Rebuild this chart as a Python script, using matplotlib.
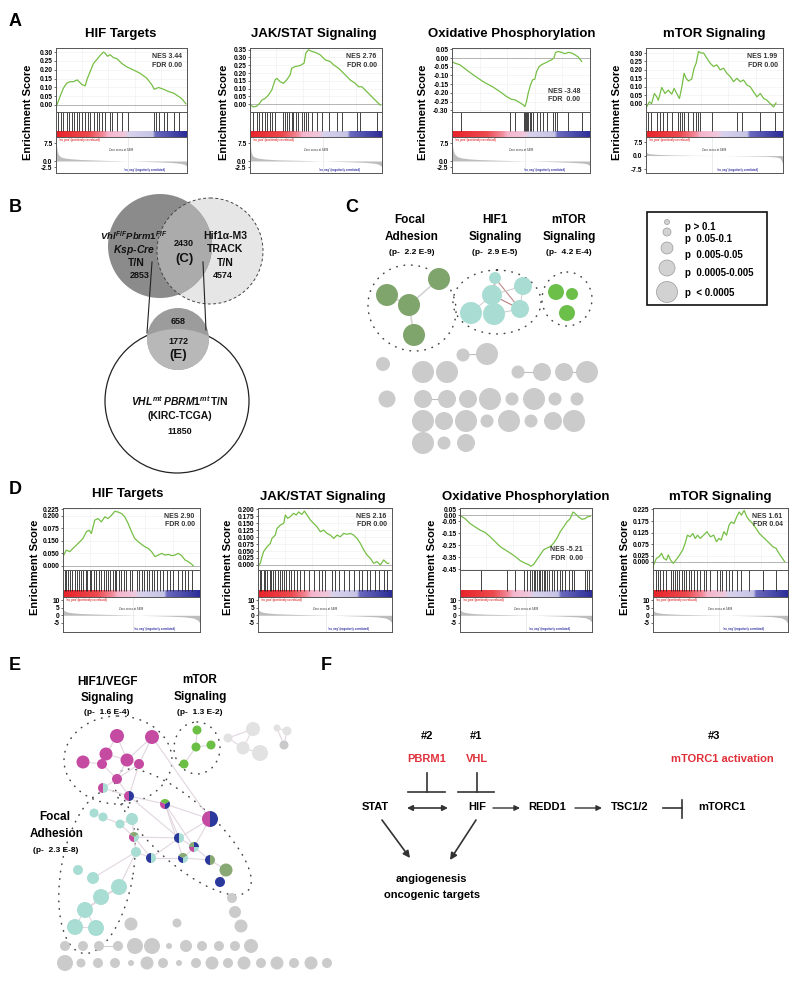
import numpy as np
import matplotlib.pyplot as plt
from matplotlib.patches import Circle, Ellipse, Wedge, Rectangle
from matplotlib.colors import LinearSegmentedColormap

plt.rcParams['font.family'] = ['Liberation Sans', 'DejaVu Sans']
plt.rcParams['font.weight'] = 'bold'
plt.rcParams['mathtext.fontset'] = 'custom'
plt.rcParams['mathtext.rm'] = 'Liberation Sans:bold'
plt.rcParams['mathtext.it'] = 'Liberation Sans:italic:bold'
plt.rcParams['mathtext.bf'] = 'Liberation Sans:bold'

# --- GSEA data (x = % of ranked list) ---
a1_x = [0.5, 3.1, 5.6, 8.2, 10.7, 13.3, 16.3, 19.6, 22.2, 24.0, 26.0, 28.6, 31.1, 33.7, 36.2, 37.5, 39.3,
        41.3, 43.9, 46.4, 50.3, 54.1, 59.2, 64.3, 69.4, 73.2, 75.0, 78.3, 82.1, 86.0, 89.8, 93.6, 96.2, 99.2]
a1_es = [-0.004, 0.048, 0.095, 0.123, 0.132, 0.132, 0.142, 0.117, 0.108, 0.151, 0.188, 0.235, 0.257, 0.281,
         0.300, 0.294, 0.276, 0.285, 0.268, 0.263, 0.235, 0.216, 0.198, 0.179, 0.151, 0.114, 0.089, 0.099,
         0.089, 0.076, 0.067, 0.048, 0.034, 0.006]
a1_hits = [1.8, 3.6, 5.6, 8.2, 10.3, 12.1, 14.1, 15.9, 17.9, 19.7, 22.3, 24.1, 26.2, 28.7, 31.3, 32.6, 35.1,
           37.7, 41.5, 42.8, 46.7, 50.5, 54.9, 74.9, 76.7, 78.7, 82.6, 85.1, 90.3, 94.1]

a2_x = [0.5, 2.5, 5.1, 7.1, 8.9, 11.4, 13.9, 16.5, 19.0, 20.3, 22.8, 25.3, 27.8, 30.4, 31.6, 34.2, 38.0, 41.0,
        42.3, 44.3, 46.8, 49.4, 53.2, 57.0, 60.8, 63.3, 67.1, 70.9, 75.9, 79.7, 82.3, 84.8, 87.3, 91.1, 94.9, 98.7]
a2_es = [-0.006, -0.017, -0.013, 0.004, 0.026, 0.037, 0.058, 0.091, 0.156, 0.166, 0.145, 0.134, 0.156, 0.188,
         0.231, 0.242, 0.248, 0.264, 0.328, 0.350, 0.339, 0.333, 0.317, 0.285, 0.274, 0.253, 0.231, 0.199,
         0.156, 0.134, 0.112, 0.112, 0.091, 0.058, 0.026, -0.006]
a2_hits = [2.5, 5.1, 7.1, 8.9, 11.4, 12.7, 15.2, 16.5, 19.0, 25.3, 26.6, 28.4, 29.9, 31.6, 32.9, 35.0, 36.7,
           39.2, 41.0, 42.5, 44.3, 46.8, 50.6, 54.4, 59.5, 65.8, 69.6, 81.0, 83.5, 96.2]

a3_x = [0.0, 1.9, 5.6, 10.4, 15.3, 22.5, 29.8, 34.6, 39.5, 43.1, 45.5, 47.9, 51.6, 52.8, 54.0, 55.2, 56.9,
        58.4, 60.0, 61.3, 63.2, 64.9, 67.3, 69.7, 72.2, 73.8, 75.1, 77.0, 79.4, 81.8, 84.3, 86.7, 89.1, 91.5, 94.0]
a3_es = [-0.019, -0.029, -0.038, -0.067, -0.096, -0.135, -0.167, -0.192, -0.221, -0.237, -0.240, -0.250,
         -0.269, -0.279, -0.250, -0.202, -0.154, -0.125, -0.121, -0.077, -0.048, -0.038, -0.029, -0.019,
         -0.010, 0.0, 0.033, 0.038, 0.033, 0.025, 0.033, 0.029, 0.019, 0.006, -0.019]
a3_hits = [6.8, 41.9, 45.5, 52.1, 52.8, 53.5, 54.5, 55.4, 56.4, 57.6, 58.8, 61.3, 63.7, 66.1, 68.5, 73.4,
           74.6, 75.8, 84.3, 94.0]

a4_x = [0.5, 2.4, 4.1, 6.1, 7.8, 9.0, 11.5, 13.9, 16.3, 18.8, 20.5, 22.4, 24.4, 26.1, 27.8, 29.3, 31.0, 33.4,
        35.1, 36.6, 38.3, 40.0, 42.0, 44.4, 46.8, 49.3, 51.7, 54.1, 56.6, 59.0, 61.5, 63.9, 66.3, 68.8, 71.2,
        73.7, 76.1, 78.5, 81.0, 83.4, 85.9, 88.3, 90.7, 93.2, 94.9]
a4_es = [-0.02, 0.01, 0.0, 0.06, 0.04, 0.02, 0.096, 0.06, 0.08, 0.056, 0.09, 0.06, 0.03, 0.096, 0.18, 0.15,
         0.134, 0.146, 0.21, 0.24, 0.31, 0.30, 0.30, 0.27, 0.24, 0.22, 0.23, 0.20, 0.21, 0.18, 0.16, 0.13,
         0.15, 0.13, 0.14, 0.11, 0.10, 0.07, 0.04, 0.06, 0.03, 0.02, 0.0, -0.02, 0.004]
a4_hits = [1.7, 3.4, 7.8, 10.2, 12.7, 15.1, 18.8, 23.7, 24.9, 26.1, 27.8, 31.0, 34.6, 36.6, 37.8, 39.5, 48.0,
           66.3, 70.0, 83.4, 94.4]

d1_x = [0.5, 2.4, 4.9, 7.3, 9.8, 12.2, 14.6, 17.1, 19.0, 20.7, 23.2, 25.6, 28.0, 30.5, 32.9, 35.4, 37.8, 40.2,
        42.7, 45.1, 47.6, 50.0, 52.4, 54.9, 57.3, 59.8, 62.2, 64.6, 67.1, 69.5, 72.0, 74.4, 76.8, 79.3, 81.7,
        84.1, 86.6, 89.0, 91.5, 93.9, 95.1]
d1_es = [0.043, 0.063, 0.057, 0.070, 0.083, 0.096, 0.109, 0.136, 0.142, 0.129, 0.182, 0.188, 0.175, 0.195,
         0.188, 0.201, 0.217, 0.214, 0.208, 0.195, 0.168, 0.136, 0.109, 0.096, 0.086, 0.076, 0.070, 0.057,
         0.037, 0.043, 0.050, 0.043, 0.046, 0.041, 0.043, 0.050, 0.041, 0.024, 0.017, 0.007, 0.0]
d1_hits = [1.2, 2.4, 3.7, 5.4, 6.8, 8.5, 10.2, 11.7, 13.4, 14.6, 16.6, 17.6, 19.5, 20.7, 22.4, 24.4, 26.3, 28.0,
           29.8, 31.2, 32.9, 34.6, 36.6, 37.8, 39.0, 41.0, 42.7, 44.4, 46.3, 48.8, 50.7, 53.7, 55.6, 57.3,
           59.0, 61.0, 62.9, 64.6, 66.3, 68.3, 70.7, 73.2, 75.6, 78.0, 80.5, 84.1, 86.6, 89.0, 91.5, 93.9]

d2_x = [0.5, 1.7, 3.0, 4.2, 6.7, 9.2, 10.4, 12.9, 14.2, 16.7, 19.2, 20.4, 22.1, 24.1, 26.6, 28.6, 30.3, 32.8,
        34.6, 36.6, 39.1, 41.5, 44.0, 46.5, 49.0, 51.5, 54.0, 56.5, 59.0, 61.4, 63.9, 66.4, 68.9, 71.4, 73.9,
        76.4, 78.9, 81.3, 83.8, 86.3, 88.8, 91.3, 93.8, 96.3, 97.5]
d2_es = [0.0, 0.006, 0.030, 0.048, 0.065, 0.077, 0.095, 0.107, 0.131, 0.143, 0.149, 0.179, 0.167, 0.173,
         0.185, 0.179, 0.190, 0.181, 0.193, 0.179, 0.161, 0.149, 0.137, 0.119, 0.125, 0.113, 0.107, 0.095,
         0.107, 0.101, 0.113, 0.110, 0.113, 0.107, 0.095, 0.077, 0.054, 0.036, 0.024, 0.006, 0.012, 0.0,
         0.018, 0.006, 0.006]
d2_hits = [1.2, 2.5, 4.2, 5.5, 6.7, 8.7, 9.7, 11.2, 12.9, 14.7, 16.2, 17.9, 19.2, 20.9, 22.9, 24.6, 26.6, 29.1,
           31.6, 34.1, 37.8, 41.5, 45.3, 47.8, 50.2, 55.2, 57.7, 60.2, 63.9, 67.7, 71.4, 75.1, 77.6, 81.3,
           83.8, 87.6, 90.0, 93.8, 96.3]

d3_x = [0.5, 3.8, 7.6, 11.4, 15.2, 19.0, 22.8, 26.6, 30.4, 34.2, 38.0, 41.8, 45.6, 49.4, 51.9, 53.7, 55.7,
        58.2, 60.8, 63.3, 65.8, 68.4, 70.9, 73.4, 75.9, 78.5, 81.0, 83.5, 85.6, 87.3, 89.9, 92.4, 94.9, 96.2, 98.7]
d3_es = [-0.005, -0.027, -0.068, -0.096, -0.123, -0.142, -0.178, -0.219, -0.260, -0.287, -0.314, -0.342,
         -0.377, -0.399, -0.410, -0.424, -0.410, -0.369, -0.328, -0.287, -0.273, -0.260, -0.232, -0.191,
         -0.137, -0.096, -0.055, -0.027, 0.028, 0.014, -0.014, -0.033, -0.027, -0.014, -0.008]
d3_hits = [15.7, 35.4, 41.8, 48.6, 50.6, 52.7, 54.4, 55.7, 57.0, 58.2, 59.5, 60.8, 62.0, 63.3, 64.6, 65.8,
           67.6, 69.6, 71.4, 73.4, 75.4, 77.2, 79.7, 82.3, 84.8, 86.6, 94.9, 96.2, 97.5]

d4_x = [0.5, 2.5, 4.5, 6.3, 8.0, 10.0, 11.3, 13.0, 15.0, 17.0, 18.8, 20.5, 22.0, 23.8, 25.5, 27.5, 29.5,
        31.3, 33.0, 35.0, 37.5, 40.0, 42.5, 45.0, 47.0, 48.8, 50.5, 52.5, 54.5, 56.3, 58.0, 60.0, 62.0,
        63.8, 65.5, 67.5, 69.5, 71.3, 73.8, 76.3, 78.8, 81.3, 83.8, 86.3, 88.8, 91.3, 92.5, 95.0, 97.5]
d4_es = [-0.014, 0.014, 0.021, 0.036, 0.014, 0.007, 0.029, 0.007, -0.007, 0.007, 0.021, 0.036, 0.050, 0.079,
         0.114, 0.107, 0.121, 0.100, 0.114, 0.100, 0.114, 0.129, 0.107, 0.114, 0.086, 0.100, 0.093, 0.129,
         0.114, 0.157, 0.171, 0.164, 0.193, 0.214, 0.200, 0.221, 0.193, 0.179, 0.164, 0.143, 0.121, 0.107,
         0.093, 0.079, 0.064, 0.057, 0.043, 0.021, 0.0]
d4_hits = [2.5, 3.8, 5.5, 7.5, 9.5, 13.0, 14.5, 16.3, 18.0, 19.5, 21.3, 23.0, 24.5, 26.3, 28.0, 30.0, 32.5,
           35.0, 37.5, 39.5, 42.5, 47.5, 49.5, 51.3, 53.8, 56.3, 58.8, 62.5, 65.0, 71.3, 81.3, 91.3]

# ranked list metric
rank_x = [0, 1, 2, 4, 7, 12, 20, 35, 55, 75, 88, 95, 98, 99.5, 100]
a1_rank = [7.5, 4.0, 2.5, 1.6, 1.2, 0.9, 0.6, 0.3, 0.0, -0.3, -0.6, -1.0, -1.4, -2.0, -2.4]
a2_rank = [7.0, 3.5, 2.2, 1.5, 1.1, 0.8, 0.5, 0.3, 0.0, -0.3, -0.6, -1.0, -1.5, -2.2, -2.6]
a3_rank = [7.5, 4.2, 2.8, 1.8, 1.3, 0.9, 0.6, 0.3, 0.0, -0.3, -0.6, -0.9, -1.2, -1.8, -2.2]
a4_rank = [1.8, 1.4, 1.1, 0.9, 0.7, 0.5, 0.3, 0.1, 0.0, -0.2, -0.4, -0.8, -1.5, -4.0, -7.0]
d1_rank = [4.0, 3.0, 2.5, 2.0, 1.6, 1.2, 0.9, 0.5, 0.0, -0.5, -1.0, -1.8, -3.0, -4.5, -5.5]
d2_rank = [4.0, 3.0, 2.4, 1.9, 1.5, 1.1, 0.8, 0.4, 0.0, -0.5, -1.0, -1.8, -3.0, -4.5, -5.5]
d3_rank = [3.5, 2.8, 2.3, 1.8, 1.4, 1.0, 0.7, 0.4, 0.0, -0.5, -1.0, -1.6, -2.8, -4.2, -5.0]
d4_rank = [3.0, 2.5, 2.0, 1.6, 1.2, 0.9, 0.6, 0.3, 0.0, -0.4, -0.9, -1.7, -3.0, -4.8, -6.0]

titles_a = ['HIF Targets', 'JAK/STAT Signaling', 'Oxidative Phosphorylation', 'mTOR Signaling']
nes_a = ['NES 3.44\nFDR 0.00', 'NES 2.76\nFDR 0.00', 'NES -3.48\nFDR  0.00', 'NES 1.99\nFDR 0.00']
nes_d = ['NES 2.90\nFDR 0.00', 'NES 2.16\nFDR 0.00', 'NES -5.21\nFDR  0.00', 'NES 1.61\nFDR 0.04']
zero_a = [55, 55, 53, 48]
zero_d = [51, 51, 50, 49]
zero_lbl = ['Zero cross at 5499', 'Zero cross at 5499', 'Zero cross at 5499', 'Zero cross at 5499']

a_ticks = [[0, 0.05, 0.10, 0.15, 0.20, 0.25, 0.30],
           [0, 0.05, 0.10, 0.15, 0.20, 0.25, 0.30, 0.35],
           [0.05, 0, -0.05, -0.10, -0.15, -0.20, -0.25, -0.30],
           [0, 0.05, 0.10, 0.15, 0.20, 0.25, 0.30]]
a_tlabels = [['0.00', '0.05', '0.10', '0.15', '0.20', '0.25', '0.30'],
             ['0.00', '0.05', '0.10', '0.15', '0.20', '0.25', '0.30', '0.35'],
             ['0.05', '0.00', '-0.05', '-0.10', '-0.15', '-0.20', '-0.25', '-0.30'],
             ['0.00', '0.05', '0.10', '0.15', '0.20', '0.25', '0.30']]
d_ticks = [[0, 0.05, 0.10, 0.15, 0.20, 0.225],
           [0, 0.025, 0.05, 0.075, 0.10, 0.125, 0.15, 0.175, 0.20],
           [0.05, 0, -0.05, -0.15, -0.25, -0.35, -0.45],
           [0, 0.025, 0.075, 0.125, 0.175, 0.225]]
d_tlabels = [['0.000', '0.050', '0.150', '0.075', '0.200', '0.225'],
             ['0.000', '0.025', '0.050', '0.075', '0.100', '0.125', '0.150', '0.175', '0.200'],
             ['0.05', '0.00', '-0.05', '-0.15', '-0.25', '-0.35', '-0.45'],
             ['0.000', '0.025', '0.075', '0.125', '0.175', '0.225']]
a_rticks = [[7.5, 0.0, -2.5]] * 3 + [[7.5, 0.0, -7.5]]
a_rlabels = [['7.5', '0.0', '-2.5']] * 3 + [['7.5', '0.0', '-7.5']]
d_rticks = [10, 5, 0, -5]
d_rlabels = ['10', '5', '0', '-5']

# --- Venn (B) ---
venn_counts = ['2853', '2430', '4574', '658', '1772', '11850']

# --- network C ---
c_dg_x = [387, 439, 409, 414]
c_dg_y = [295, 279, 305, 335]
c_dg_r = [11, 11, 11, 11]
c_te_x = [495, 523, 492, 471, 494, 520]
c_te_y = [278, 286, 295, 313, 314, 309]
c_te_r = [6, 9, 10, 11, 11, 9]
c_gr_x = [556, 572, 567]
c_gr_y = [292, 294, 313]
c_gr_r = [8, 6, 8]
c_gy_x = [463, 487, 383, 423, 447, 518, 542, 564, 587,
          387, 423, 447, 468, 490, 512, 534, 555, 577,
          423, 444, 466, 487, 509, 531, 553, 574, 423, 444, 466]
c_gy_y = [355, 354, 364, 372, 372, 372, 372, 372, 372,
          399, 399, 399, 399, 399, 399, 399, 399, 399,
          421, 421, 421, 421, 421, 421, 421, 421, 443, 443, 443]
c_gy_r = [6.5, 11, 7, 11, 11, 6.5, 9, 9, 11,
          8.5, 9, 9, 9, 11, 6.5, 11, 6.5, 6.5,
          11, 9, 11, 6.5, 11, 6.5, 9, 11, 11, 6.5, 9]
legend_p = ['p > 0.1', 'p  0.05-0.1', 'p  0.005-0.05', 'p  0.0005-0.005', 'p  < 0.0005']

# --- network E ---
e_x = [117, 152, 106, 83, 102, 127, 139, 117, 103, 129, 165, 210, 134, 179, 194, 151, 183, 210, 226, 220,
       94, 103, 120, 132, 136, 78, 93, 119, 101, 85, 75, 96,
       197, 196, 211, 184, 228, 253, 243, 260, 277, 287, 284, 232, 235, 241, 131, 177]
e_y = [736, 737, 754, 762, 764, 760, 764, 779, 788, 796, 804, 819, 837, 838, 847, 858, 858, 860, 870, 882,
       813, 817, 824, 819, 852, 870, 878, 887, 897, 910, 927, 928,
       730, 747, 745, 764, 738, 729, 748, 753, 728, 731, 745, 898, 912, 926, 924, 923]
e_r = [7, 7, 6.5, 6.5, 5, 6.5, 5, 5, 5, 5, 5, 8, 5, 5, 5, 5, 5, 5, 6.5, 5,
       4.5, 4.5, 4.5, 6, 5, 5, 6, 8, 8, 8, 8, 8,
       4.5, 4.5, 4.5, 4.5, 4.5, 7, 6.5, 8, 3.5, 4.5, 4.5, 5, 6, 6.5, 6.5, 4.5]
e_c = ['M', 'M', 'M', 'M', 'M', 'M', 'M', 'M', 'MT', 'MB', 'MGB', 'MB', 'MDT', 'BT', 'MDBT', 'BT', 'BDT',
       'BD', 'D', 'B',
       'T', 'T', 'T', 'T', 'T', 'T', 'T', 'T', 'T', 'T', 'T', 'T',
       'G', 'G', 'G', 'G', 'L', 'L', 'L', 'L', 'L', 'L', 'K', 'Y', 'Y', 'Y', 'Y', 'Y']
e_edges = [(0, 2), (0, 5), (1, 5), (1, 6), (2, 4), (2, 5), (3, 4), (5, 6), (4, 7), (5, 7), (6, 7), (7, 8),
           (7, 9), (6, 9), (8, 9), (9, 10), (9, 13), (10, 11), (10, 13), (10, 14), (10, 16), (11, 13),
           (11, 14), (13, 14), (13, 15), (14, 16), (16, 17), (14, 17), (12, 13), (12, 15), (12, 24),
           (12, 23), (23, 22), (22, 21), (21, 20), (12, 22), (24, 27), (24, 26), (27, 28), (28, 29),
           (29, 30), (30, 31), (29, 31), (27, 29), (24, 15), (15, 16), (17, 18), (18, 19), (1, 11),
           (32, 33), (33, 34), (33, 35), (36, 37), (36, 38), (37, 38), (38, 39), (40, 41), (40, 42), (41, 42)]
e_row1_x = [65, 83, 99, 118, 135, 152, 169, 186, 202, 219, 235, 251]
e_row1_r = [5, 5, 5, 5, 8, 8, 3, 6, 5, 5, 5, 7]
e_row2_x = [65, 81, 98, 115, 131, 147, 163, 179, 196, 212, 228, 244, 261, 277, 294, 311, 327]
e_row2_r = [8, 4.5, 5, 5, 3, 6.5, 5, 3, 5, 6.5, 5, 6.5, 5, 6.5, 5, 6.5, 5]

W, H = 800, 985
GREEN_LINE = '#76bf45'
ecol = {'M': '#c54aa2', 'B': '#2b389c', 'T': '#a8ddd3', 'G': '#6bbf44', 'D': '#88a874',
        'L': '#e2e2e2', 'K': '#c9c9c9', 'Y': '#cbcbcb'}
gsea_cmap = LinearSegmentedColormap.from_list('gsea', [
    (0, '#e8232a'), (0.25, '#ec4a4e'), (0.36, '#f28a9a'), (0.40, '#f5b6cc'), (0.52, '#f0c8dc'),
    (0.56, '#d8d2ec'), (0.74, '#c6c4e6'), (0.76, '#6a6abf'), (1.0, '#2c2c98')])


def px(l, t, r, b):
    return [l / W, 1 - b / H, (r - l) / W, (b - t) / H]


fig = plt.figure(figsize=(8, 9.85), dpi=100)
ov = fig.add_axes([0, 0, 1, 1])
ov.set_xlim(0, W)
ov.set_ylim(H, 0)
ov.axis('off')


def style(ax):
    for s in ax.spines.values():
        s.set_color('#555555')
        s.set_linewidth(0.7)
    ax.tick_params(labelsize=4.8, length=1.5, width=0.4, pad=1)


def gsea(l, r, t, m1, m2, b, ex, ey, elim, eticks, elabels, hits, rk, rlim, rticks, rlabels,
         nes, nes_low, zx, zl):
    ax1 = fig.add_axes(px(l, t, r, m1))
    for gx in [20, 40, 60, 80]:
        ax1.axvline(gx, color='#eeeeee', lw=0.4, zorder=0)
    for gy in eticks:
        ax1.axhline(gy, color='#eeeeee', lw=0.4, zorder=0)
    ax1.axhline(0, color='#9a9a9a', lw=0.5)
    ax1.plot(ex, ey, color=GREEN_LINE, lw=0.9)
    ax1.set_xlim(0, 100)
    ax1.set_ylim(*elim)
    ax1.set_yticks(eticks, elabels)
    ax1.set_xticks([])
    style(ax1)
    if nes_low:
        ax1.text(0.93, 0.38, nes, transform=ax1.transAxes, ha='right', va='top', fontsize=5,
                 color='#333333', linespacing=1.3)
    else:
        ax1.text(0.96, 0.92, nes, transform=ax1.transAxes, ha='right', va='top', fontsize=5,
                 color='#333333', linespacing=1.3, multialignment='right')

    ax2 = fig.add_axes(px(l, m1, r, m2))
    ax2.imshow(np.linspace(0, 1, 256)[None, :], extent=[0, 100, 0, 0.24], aspect='auto', cmap=gsea_cmap)
    ax2.vlines(hits, 0.24, 1, color='#222222', lw=0.6)
    ax2.set_xlim(0, 100)
    ax2.set_ylim(0, 1)
    ax2.set_xticks([])
    ax2.set_yticks([])
    style(ax2)

    ax3 = fig.add_axes(px(l, m2, r, b))
    ax3.fill_between(rank_x, rk, 0, color='#bdbdbd', lw=0)
    ax3.axvline(zx, color='#dddddd', lw=0.4)
    ax3.set_xlim(0, 100)
    ax3.set_ylim(*rlim)
    ax3.set_yticks(rticks, rlabels)
    ax3.set_xticks([])
    style(ax3)
    ax3.text(0.02, 0.98, "'na_pos' (positively correlated)", transform=ax3.transAxes, fontsize=2,
             color='#e03030', va='top')
    ax3.text(0.5, 0.62, zl, transform=ax3.transAxes, fontsize=2, color='#666666', ha='center')
    ax3.text(0.52, 0.06, "'na_neg' (negatively correlated)", transform=ax3.transAxes, fontsize=2,
             color='#3030a0')


# panel A
a_box = [(56, 187), (250, 382), (452, 590), (646, 783)]
a_data = [(a1_x, a1_es, a1_hits, a1_rank), (a2_x, a2_es, a2_hits, a2_rank),
          (a3_x, a3_es, a3_hits, a3_rank), (a4_x, a4_es, a4_hits, a4_rank)]
a_lims = [(-0.04, 0.323), (-0.05, 0.361), (-0.31, 0.058), (-0.05, 0.33)]
a_rlims = [(-5, 10), (-5, 10), (-5, 10), (-9.7, 10.3)]
a_title_x = [121, 314, 512, 714]
a_ylab_x = [28, 224, 423, 617]
for i in range(4):
    l, r = a_box[i]
    x, es, hits, rk = a_data[i]
    gsea(l, r, 48, 112, 137, 173, x, es, a_lims[i], a_ticks[i], a_tlabels[i], hits, rk, a_rlims[i],
         a_rticks[i], a_rlabels[i], nes_a[i], i == 2, zero_a[i], zero_lbl[i])
    ov.text(a_title_x[i], 34, titles_a[i], fontsize=9.5, ha='center', va='center')
    ov.text(a_ylab_x[i], 112, 'Enrichment Score', fontsize=8, rotation=90, ha='center', va='center')

# panel D
d_box = [(63, 200), (258, 392), (460, 592), (653, 788)]
d_data = [(d1_x, d1_es, d1_hits, d1_rank), (d2_x, d2_es, d2_hits, d2_rank),
          (d3_x, d3_es, d3_hits, d3_rank), (d4_x, d4_es, d4_hits, d4_rank)]
d_lims = [(-0.016, 0.230), (-0.018, 0.204), (-0.455, 0.061), (-0.036, 0.231)]
d_title_x = [128, 323, 526, 720]
d_title_y = [494, 497, 497, 497]
d_ylab_x = [35, 228, 432, 625]
for i in range(4):
    l, r = d_box[i]
    x, es, hits, rk = d_data[i]
    gsea(l, r, 508, 570, 597, 632, x, es, d_lims[i], d_ticks[i], d_tlabels[i], hits, rk, (-11, 12),
         d_rticks, d_rlabels, nes_d[i], i == 2, zero_d[i], zero_lbl[i])
    ov.text(d_title_x[i], d_title_y[i], titles_a[i], fontsize=9.5, ha='center', va='center')
    ov.text(d_ylab_x[i], 567, 'Enrichment Score', fontsize=8, rotation=90, ha='center', va='center')

# panel letters
for lab, x, y in [('A', 15, 21), ('B', 15, 207), ('C', 352, 207), ('D', 15, 490), ('E', 15, 665),
                  ('F', 326, 665)]:
    ov.text(x, y, lab, fontsize=13, ha='center', va='center')

# --- panel B: Venn ---
light = Circle((210, 251), 53, fc='#e6e6e6', ec='none')
ov.add_patch(light)
ov.add_patch(Circle((160, 246), 52, fc='#8b8b8b', ec='none'))
ov_c = Circle((160, 246), 52, fc='#ababab', ec='none')
ov.add_patch(ov_c)
ov_c.set_clip_path(light)
ov.add_patch(Circle((210, 251), 53, fill=False, ec='#444444', lw=0.7, ls=(0, (3, 2.5))))
big = Circle((177, 401), 72, fc='white', ec='#222222', lw=0.9)
ov.add_patch(big)
ov.add_patch(Circle((178, 339), 31, fc='#9c9c9c', ec='none'))
inner = Circle((178, 339), 31, fc='#b8b8b8', ec='none')
ov.add_patch(inner)
inner.set_clip_path(big)
ov.plot([152, 147], [262, 333], color='#222222', lw=0.8)
ov.plot([203, 206], [262, 330], color='#222222', lw=0.8)

ov.text(134, 236, r'$\mathit{Vhl}^{\mathit{F/F}}\mathit{Pbrm1}^{\mathit{F/F}}$', fontsize=6.8,
        ha='center', va='center', color='#111111')
ov.text(134, 250, r'$\mathit{Ksp}$-$\mathit{Cre}$', fontsize=7.5, ha='center', va='center', color='#111111')
ov.text(136, 263, 'T/N', fontsize=7.5, ha='center', va='center', color='#111111')
ov.text(140, 276, venn_counts[0], fontsize=6.5, ha='center', va='center', color='#111111')
ov.text(184, 243, venn_counts[1], fontsize=6.5, ha='center', va='center', color='#111111')
ov.text(184, 259, '(C)', fontsize=9.5, ha='center', va='center', color='#111111')
ov.text(225, 236, 'Hif1α-M3', fontsize=7.5, ha='center', va='center', color='#111111')
ov.text(225, 249, 'TRACK', fontsize=7.5, ha='center', va='center', color='#111111')
ov.text(225, 263, 'T/N', fontsize=7.5, ha='center', va='center', color='#111111')
ov.text(223, 276, venn_counts[2], fontsize=6.5, ha='center', va='center', color='#111111')
ov.text(178, 321, venn_counts[3], fontsize=6.5, ha='center', va='center', color='#111111')
ov.text(178, 341, venn_counts[4], fontsize=6.5, ha='center', va='center', color='#111111')
ov.text(178, 355, '(E)', fontsize=9.5, ha='center', va='center', color='#111111')
ov.text(180, 401, r'$\mathit{VHL}^{\mathit{mt}}\,\mathit{PBRM1}^{\mathit{mt}}\,\mathrm{T/N}$', fontsize=7.5,
        ha='center', va='center', color='#111111')
ov.text(180, 416, '(KIRC-TCGA)', fontsize=7.5, ha='center', va='center', color='#111111')
ov.text(180, 432, venn_counts[5], fontsize=6.5, ha='center', va='center', color='#111111')

# --- panel C: network ---
dots = dict(fill=False, ec='#444444', lw=1.1, ls=(0, (0.4, 4.5)), capstyle='round')
ov.add_patch(Ellipse((412, 308), 90, 84, angle=35, **dots))
ov.add_patch(Ellipse((497, 302), 88, 64, **dots))
ov.add_patch(Ellipse((567, 299), 50, 54, **dots))
for a, b in [(0, 2), (2, 1), (2, 3)]:
    ov.plot([c_dg_x[a], c_dg_x[b]], [c_dg_y[a], c_dg_y[b]], color='#d4d4d4', lw=1.2, zorder=1)
for a, b, col in [(0, 2, '#cccccc'), (0, 5, '#c08a8a'), (2, 1, '#d0d0d0'), (2, 5, '#b88080'),
                  (2, 4, '#d0d0d0'), (3, 2, '#d0d0d0'), (4, 5, '#d0d0d0'), (1, 5, '#d0d0d0'), (0, 4, '#c8a0a0')]:
    ov.plot([c_te_x[a], c_te_x[b]], [c_te_y[a], c_te_y[b]], color=col, lw=0.8, zorder=1)
for a, b in [(0, 1), (5, 6), (7, 8), (10, 11)]:
    ov.plot([c_gy_x[a], c_gy_x[b]], [c_gy_y[a], c_gy_y[b]], color='#bdbdbd', lw=0.8, zorder=1)
for xs, ys, rs, col in [(c_dg_x, c_dg_y, c_dg_r, '#80a56c'), (c_te_x, c_te_y, c_te_r, '#a9ddd4'),
                        (c_gr_x, c_gr_y, c_gr_r, '#6cc04a'), (c_gy_x, c_gy_y, c_gy_r, '#cbcbcb')]:
    for x, y, r in zip(xs, ys, rs):
        ov.add_patch(Circle((x, y), r, fc=col, ec='none', zorder=2))

ov.text(410, 220, 'Focal', fontsize=8.5, ha='center', va='center')
ov.text(412, 237, 'Adhesion', fontsize=8.5, ha='center', va='center')
ov.text(412, 253, '(p-  2.2 E-9)', fontsize=6, ha='center', va='center')
ov.text(495, 220, 'HIF1', fontsize=8.5, ha='center', va='center')
ov.text(495, 237, 'Signaling', fontsize=8.5, ha='center', va='center')
ov.text(495, 253, '(p-  2.9 E-5)', fontsize=6, ha='center', va='center')
ov.text(569, 220, 'mTOR', fontsize=8.5, ha='center', va='center')
ov.text(569, 237, 'Signaling', fontsize=8.5, ha='center', va='center')
ov.text(569, 253, '(p-  4.2 E-4)', fontsize=6, ha='center', va='center')

ov.add_patch(Rectangle((647, 212), 120, 93, fill=False, ec='#111111', lw=1.2))
for y, r, ty, lab in zip([222, 232, 248, 268, 292], [2.5, 4, 6, 8, 10.5], [227, 239, 255, 273, 293], legend_p):
    ov.add_patch(Circle((667, y), r, fc='#d2d2d2', ec='#9a9a9a', lw=0.5))
    ov.text(685, ty, lab, fontsize=7, ha='left', va='center')

# --- panel E: network ---
ov.add_patch(Ellipse((118, 760), 108, 88, **dots))
ov.add_patch(Ellipse((197, 748), 46, 52, **dots))
ov.add_patch(Ellipse((97, 872), 165, 72, angle=100, **dots))
ov.add_patch(Ellipse((183, 832), 175, 62, angle=42, **dots))
for a, b in e_edges:
    ov.plot([e_x[a], e_x[b]], [e_y[a], e_y[b]], color='#e2d6e0', lw=0.8, zorder=1)
ov.plot([99, 118], [946, 946], color='#d0d0d0', lw=0.8, zorder=1)
for x, y, r, c in zip(e_x, e_y, e_r, e_c):
    if len(c) == 1:
        ov.add_patch(Circle((x, y), r, fc=ecol[c], ec='none', zorder=2))
    else:
        step = 360 / len(c)
        for k, code in enumerate(c):
            ov.add_patch(Wedge((x, y), r, 90 + k * step, 90 + (k + 1) * step, fc=ecol[code], ec='none',
                               zorder=2))
for x, r in zip(e_row1_x, e_row1_r):
    ov.add_patch(Circle((x, 946), r, fc='#cbcbcb', ec='none', zorder=2))
for x, r in zip(e_row2_x, e_row2_r):
    ov.add_patch(Circle((x, 963), r, fc='#cbcbcb', ec='none', zorder=2))

ov.text(107, 682, 'HIF1/VEGF', fontsize=8.5, ha='center', va='center')
ov.text(107, 698, 'Signaling', fontsize=8.5, ha='center', va='center')
ov.text(107, 713, '(p-  1.6 E-4)', fontsize=6, ha='center', va='center')
ov.text(200, 680, 'mTOR', fontsize=8.5, ha='center', va='center')
ov.text(200, 697, 'Signaling', fontsize=8.5, ha='center', va='center')
ov.text(200, 713, '(p-  1.3 E-2)', fontsize=6, ha='center', va='center')
ov.text(55, 817, 'Focal', fontsize=8.5, ha='center', va='center')
ov.text(57, 834, 'Adhesion', fontsize=8.5, ha='center', va='center')
ov.text(56, 850, '(p-  2.3 E-8)', fontsize=6, ha='center', va='center')

# --- panel F: pathway ---
ac = '#333333'
for lab, x in [('#2', 427), ('#1', 476), ('#3', 714)]:
    ov.text(x, 736, lab, fontsize=8, ha='center', va='center')
for lab, x in [('PBRM1', 427), ('VHL', 477), ('mTORC1 activation', 722)]:
    ov.text(x, 759, lab, fontsize=8, ha='center', va='center', color='#e0303a')
for lab, x in [('STAT', 375), ('HIF', 477), ('REDD1', 547), ('TSC1/2', 630), ('mTORC1', 722)]:
    ov.text(x, 807, lab, fontsize=8, ha='center', va='center')
ov.text(431, 879, 'angiogenesis', fontsize=8, ha='center', va='center')
ov.text(432, 895, 'oncogenic targets', fontsize=8, ha='center', va='center')
for cx, l, r in [(427, 408, 445), (477, 458, 494)]:
    ov.plot([cx, cx], [773, 792], color=ac, lw=1.2)
    ov.plot([l, r], [792, 792], color=ac, lw=1.2)
ov.annotate('', xy=(448, 808), xytext=(407, 808),
            arrowprops=dict(arrowstyle='<|-|>', color=ac, lw=1.2, mutation_scale=8, shrinkA=0, shrinkB=0))
for x0, x1 in [(493, 520), (575, 602)]:
    ov.annotate('', xy=(x1, 808), xytext=(x0, 808),
                arrowprops=dict(arrowstyle='-|>', color=ac, lw=1.0, mutation_scale=8, shrinkA=0, shrinkB=0))
ov.plot([663, 682], [808, 808], color=ac, lw=1.2)
ov.plot([682, 682], [800, 818], color=ac, lw=1.2)
for s, e in [((382, 820), (410, 858)), ((476, 820), (450, 860))]:
    ov.annotate('', xy=e, xytext=s,
                arrowprops=dict(arrowstyle='-|>', color=ac, lw=1.2, mutation_scale=10, shrinkA=0, shrinkB=0))

fig.savefig('out.png', dpi=100)
